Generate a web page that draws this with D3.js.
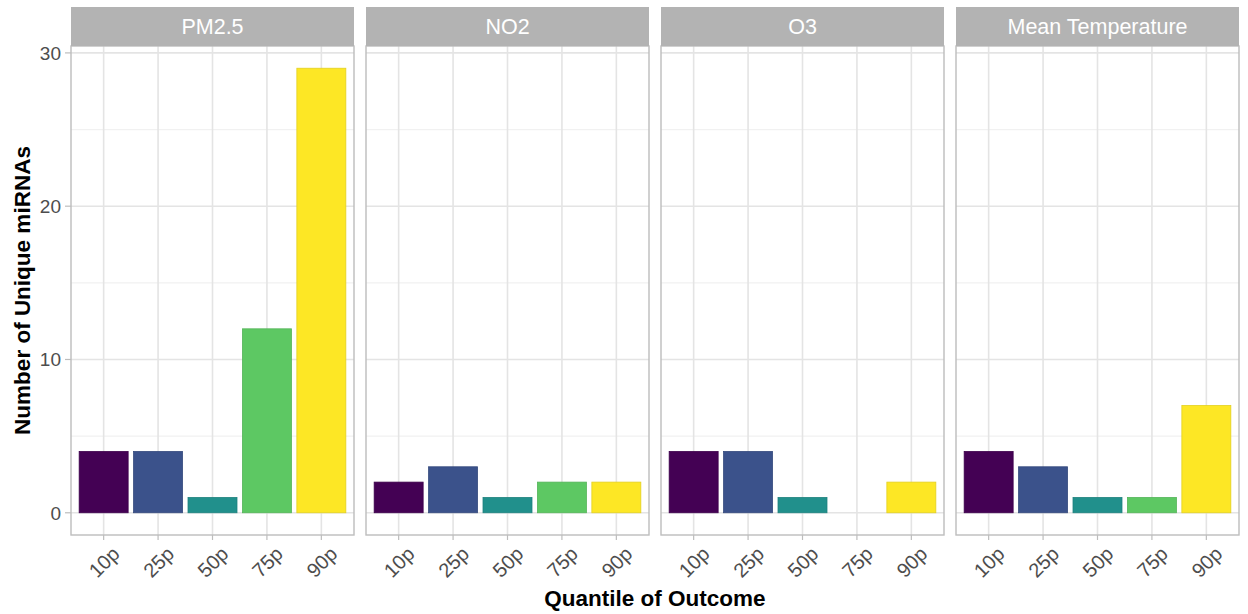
<!DOCTYPE html>
<html>
<head>
<meta charset="utf-8">
<script src="https://cdn.jsdelivr.net/npm/d3@7"></script>
<style>
  html, body { margin: 0; padding: 0; background: #fff; }
  svg { display: block; font-family: "Liberation Sans", Arial, sans-serif; }
</style>
</head>
<body>
<svg id="chart" width="1248" height="614"></svg>
<script>
// Unique miRNA counts by outcome quantile, one facet per exposure
const facets = ["PM2.5", "NO2", "O3", "Mean Temperature"];
const quantiles = ["10p", "25p", "50p", "75p", "90p"];
const pm25Counts = [4, 4, 1, 12, 29];
const no2Counts = [2, 3, 1, 2, 2];
const o3Counts = [4, 4, 1, 0, 2];
const tempCounts = [4, 3, 1, 1, 7];
const quantileColors = ["#440154", "#3B528B", "#21908C", "#5DC863", "#FDE725"];
const yTicks = [0, 10, 20, 30];
const yMinorTicks = [5, 15, 25];

const seriesByFacet = [pm25Counts, no2Counts, o3Counts, tempCounts];
const data = facets.map((f, i) => ({
  facet: f,
  values: quantiles.map((q, j) => ({ q, v: seriesByFacet[i][j] }))
}));

const svg = d3.select("#chart");

const left = 71, right = 1239, gap = 12;
const stripTop = 7, stripH = 39;
const panelTop = stripTop + stripH, panelBottom = 535;

const facetW = (right - left - gap * (facets.length - 1)) / facets.length;

const maxV = d3.max(seriesByFacet.flat());
const pad = maxV * 0.05;
const y = d3.scaleLinear().domain([-pad, maxV + pad]).range([panelBottom, panelTop]);

// discrete axis with 0.6-unit expansion on each side
const xUnit = d3.scaleLinear().domain([0.4, quantiles.length + 0.6]).range([0, facetW]);

const gridMajor = "#E4E4E4";
const gridMinor = "#F1F1F1";
const border = "#BDBDBD";

data.forEach((d, i) => {
  const x0 = left + i * (facetW + gap);
  const g = svg.append("g").attr("transform", `translate(${x0},0)`);

  // minor horizontal grid
  g.selectAll("line.ymin").data(yMinorTicks).enter().append("line")
    .attr("x1", 0).attr("x2", facetW)
    .attr("y1", v => y(v)).attr("y2", v => y(v))
    .attr("stroke", gridMinor).attr("stroke-width", 1.2);
  // major horizontal grid
  g.selectAll("line.ymaj").data(yTicks).enter().append("line")
    .attr("x1", 0).attr("x2", facetW)
    .attr("y1", v => y(v)).attr("y2", v => y(v))
    .attr("stroke", gridMajor).attr("stroke-width", 1.6);
  // vertical grid at each quantile
  g.selectAll("line.xg").data(quantiles).enter().append("line")
    .attr("x1", (q, j) => xUnit(j + 1)).attr("x2", (q, j) => xUnit(j + 1))
    .attr("y1", panelTop).attr("y2", panelBottom)
    .attr("stroke", gridMajor).attr("stroke-width", 1.6);

  // bars
  const bw = xUnit(1.45) - xUnit(0.55);
  g.selectAll("rect.bar").data(d.values.filter(e => e.v > 0)).enter().append("rect")
    .attr("x", e => xUnit(quantiles.indexOf(e.q) + 1) - bw / 2)
    .attr("width", bw)
    .attr("y", e => y(e.v))
    .attr("height", e => y(0) - y(e.v))
    .attr("fill", e => quantileColors[quantiles.indexOf(e.q)])
    .attr("stroke", e => d3.color(quantileColors[quantiles.indexOf(e.q)]).darker(0.3))
    .attr("stroke-width", 0.8);

  // panel border
  g.append("rect")
    .attr("x", 0).attr("y", panelTop)
    .attr("width", facetW).attr("height", panelBottom - panelTop)
    .attr("fill", "none").attr("stroke", border).attr("stroke-width", 1.4);

  // strip
  g.append("rect")
    .attr("x", 0).attr("y", stripTop)
    .attr("width", facetW).attr("height", stripH)
    .attr("fill", "#B3B3B3");
  g.append("text")
    .attr("x", facetW / 2).attr("y", stripTop + stripH / 2)
    .attr("dy", "0.36em")
    .attr("text-anchor", "middle")
    .attr("fill", "#FFFFFF")
    .attr("font-size", 21.5)
    .text(d.facet);

  // x ticks and rotated labels
  quantiles.forEach((q, j) => {
    const xx = xUnit(j + 1);
    g.append("line")
      .attr("x1", xx).attr("x2", xx)
      .attr("y1", panelBottom).attr("y2", panelBottom + 5)
      .attr("stroke", border).attr("stroke-width", 1.2);
    g.append("text")
      .attr("transform", `translate(${xx + 7},${panelBottom + 10}) rotate(-45)`)
      .attr("text-anchor", "end")
      .attr("dy", "0.72em")
      .attr("fill", "#4D4D4D")
      .attr("font-size", 20)
      .text(q);
  });

  // y axis on the first facet only
  if (i === 0) {
    yTicks.forEach(v => {
      g.append("line")
        .attr("x1", -6).attr("x2", 0)
        .attr("y1", y(v)).attr("y2", y(v))
        .attr("stroke", border).attr("stroke-width", 1.2);
      g.append("text")
        .attr("x", -10).attr("y", y(v))
        .attr("dy", "0.36em")
        .attr("text-anchor", "end")
        .attr("fill", "#4D4D4D")
        .attr("font-size", 19)
        .text(v);
    });
  }
});

// axis titles
svg.append("text")
  .attr("x", (left + right) / 2).attr("y", 606)
  .attr("text-anchor", "middle")
  .attr("font-size", 22.5).attr("font-weight", "bold")
  .attr("fill", "#000")
  .text("Quantile of Outcome");

svg.append("text")
  .attr("transform", `translate(30,${(panelTop + panelBottom) / 2}) rotate(-90)`)
  .attr("text-anchor", "middle")
  .attr("font-size", 22.5).attr("font-weight", "bold")
  .attr("fill", "#000")
  .text("Number of Unique miRNAs");
</script>
</body>
</html>
